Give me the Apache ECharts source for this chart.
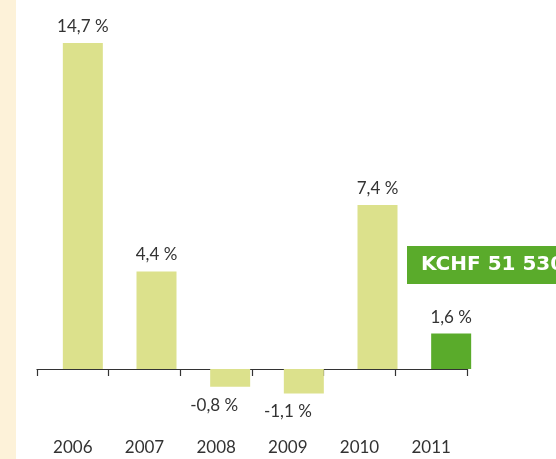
<!DOCTYPE html>
<html>
<head>
<meta charset="utf-8">
<script src="https://cdn.jsdelivr.net/npm/echarts@6/dist/echarts.min.js"></script>
<style>
  html, body { margin: 0; padding: 0; background: #fff; }
  #chart { width: 556px; height: 459px; }
</style>
</head>
<body>
<div id="chart"></div>
<script>
const years = ['2006', '2007', '2008', '2009', '2010', '2011']
const growth = [14.7, 4.4, -0.8, -1.1, 7.4, 1.6]
const highlightYear = '2011'
const calloutText = 'KCHF 51 530'

const lightBar = '#dce18c'
const darkBar = '#5aab2b'

const chart = echarts.init(document.getElementById('chart'))

const fmt = (v) => String(v).replace('.', ',') + ' %'

const barData = growth.map((v, i) => ({
  value: v,
  itemStyle: { color: years[i] === highlightYear ? darkBar : lightBar },
  label: v < 0
    ? { position: 'bottom', distance: 10, offset: [-16, 0] }
    : { position: 'top', distance: 8 }
}))

const option = {
  backgroundColor: '#ffffff',
  animation: false,
  grid: [
    // bars
    { left: 46, right: 68, top: 14.1, bottom: 45.6 },
    // axis line, ticks and year labels
    { left: 37, right: 89, top: 14.1, bottom: 90 }
  ],
  xAxis: [
    {
      type: 'category',
      gridIndex: 0,
      data: years,
      show: false
    },
    {
      type: 'category',
      gridIndex: 1,
      data: years,
      position: 'bottom',
      axisLine: { show: true, lineStyle: { color: '#333', width: 1.2 } },
      axisTick: { show: true, length: 7, lineStyle: { color: '#333', width: 1.2 } },
      axisLabel: {
        margin: 70,
        color: '#333',
        fontFamily: 'Lato',
        fontSize: 17
      },
      splitLine: { show: false }
    }
  ],
  yAxis: [
    { type: 'value', gridIndex: 0, min: -2, max: 16, show: false },
    { type: 'value', gridIndex: 1, min: 0, max: 1, show: false }
  ],
  series: [
    {
      type: 'bar',
      xAxisIndex: 0,
      yAxisIndex: 0,
      data: barData,
      barWidth: 40,
      label: {
        show: true,
        color: '#333',
        fontFamily: 'Lato',
        fontSize: 17,
        formatter: (p) => fmt(p.value)
      }
    }
  ],
  graphic: [
    {
      type: 'rect',
      left: 0,
      top: 0,
      shape: { width: 16, height: 459 },
      style: { fill: '#fdf2d9' }
    },
    {
      type: 'group',
      left: 407,
      top: 246,
      children: [
        {
          type: 'rect',
          shape: { x: 0, y: 0, width: 160, height: 38 },
          style: { fill: darkBar }
        },
        {
          type: 'text',
          x: 14,
          y: 19,
          style: {
            text: calloutText,
            fill: '#fff',
            fontFamily: 'DejaVu Sans',
            fontWeight: 'bold',
            fontSize: 20,
            verticalAlign: 'middle'
          }
        }
      ]
    }
  ]
}

chart.setOption(option)
</script>
</body>
</html>
